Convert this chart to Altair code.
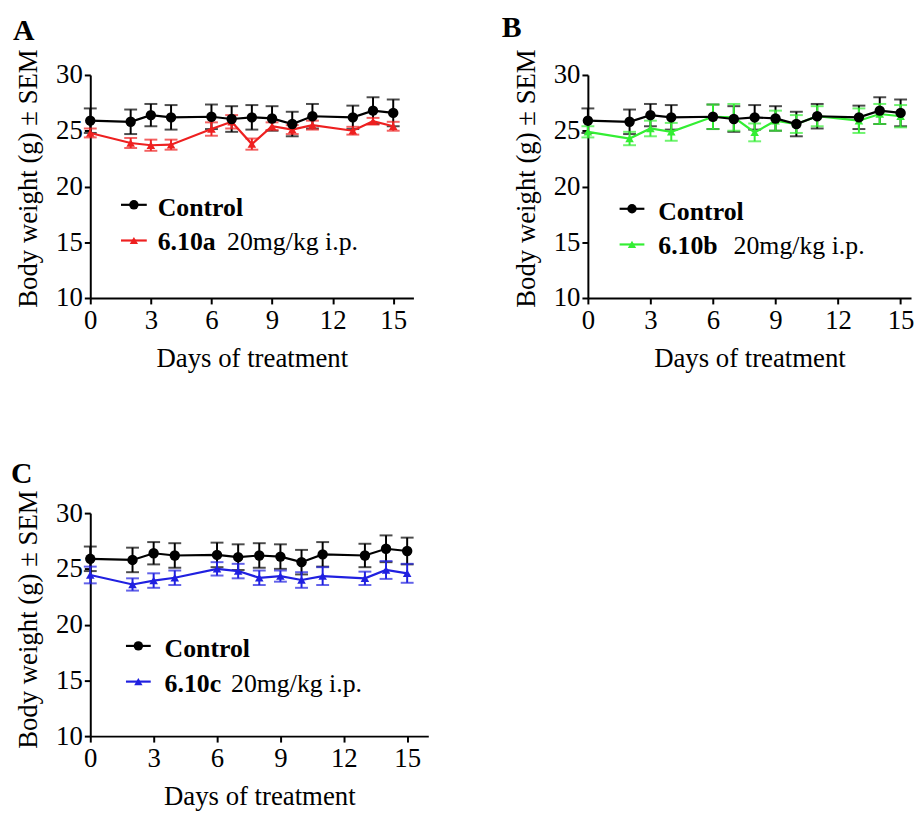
import altair as alt
import pandas as pd

# ---- data ----
days = [0, 2, 3, 4, 6, 7, 8, 9, 10, 11, 13, 14, 15]

control = [25.9, 25.8, 26.4, 26.2, 26.25, 26.05, 26.2, 26.1, 25.6, 26.3, 26.2, 26.8, 26.6]
control_sem = [1.1, 1.1, 1.0, 1.1, 1.1, 1.15, 1.1, 1.1, 1.1, 1.1, 1.05, 1.2, 1.2]

a_vals = [24.8, 23.9, 23.7, 23.75, 25.15, 25.8, 23.8, 25.4, 25.1, 25.5, 25.0, 25.85, 25.4]
a_sem = [0.4, 0.45, 0.5, 0.45, 0.6, 0.6, 0.5, 0.35, 0.4, 0.4, 0.35, 0.3, 0.4]

b_vals = [24.9, 24.3, 25.2, 24.9, 26.25, 26.2, 24.85, 25.9, 25.6, 26.3, 25.9, 26.5, 26.3]
b_sem = [0.5, 0.6, 0.7, 0.8, 1.1, 1.2, 0.8, 0.9, 0.8, 0.9, 1.1, 0.9, 1.0]

c_vals = [24.45, 23.6, 23.95, 24.2, 25.0, 24.8, 24.2, 24.35, 24.0, 24.35, 24.15, 24.9, 24.6]
c_sem = [0.75, 0.55, 0.65, 0.65, 0.6, 0.65, 0.65, 0.5, 0.7, 0.8, 0.6, 0.8, 0.85]

x_ticks = [0, 3, 6, 9, 12, 15]
y_ticks = [10, 15, 20, 25, 30]

FONT = "Liberation Serif"


def panel(letter, compound, color, vals, sems, width, xmax, title_y, leg, letter_pos):
    df = pd.DataFrame({
        "day": days,
        "ctrl": control,
        "ctrl_lo": [v - s for v, s in zip(control, control_sem)],
        "ctrl_hi": [v + s for v, s in zip(control, control_sem)],
        "trt": vals,
        "trt_lo": [v - s for v, s in zip(vals, sems)],
        "trt_hi": [v + s for v, s in zip(vals, sems)],
    })
    xaxis = alt.Axis(values=x_ticks, title="Days of treatment", labelFlush=False)
    yaxis = alt.Axis(values=y_ticks, title="Body weight (g) \u00b1 SEM", titleY=title_y)
    xs = alt.Scale(domain=[0, xmax], nice=False, zero=False)
    ys = alt.Scale(domain=[10, 30], nice=False, zero=False)
    X = alt.X("day:Q", scale=xs, axis=xaxis)

    def Y(f):
        return alt.Y(f + ":Q", scale=ys, axis=yaxis)

    base = alt.Chart(df)
    layers = []
    for key, col in (("ctrl", "black"), ("trt", color)):
        layers.append(base.mark_rule(color=col, strokeWidth=2).encode(x=X, y=Y(key + "_lo"), y2=key + "_hi:Q"))
        layers.append(base.mark_tick(color=col, orient="horizontal", size=13, thickness=2).encode(x=X, y=Y(key + "_lo")))
        layers.append(base.mark_tick(color=col, orient="horizontal", size=13, thickness=2).encode(x=X, y=Y(key + "_hi")))
    layers.append(base.mark_line(color=color, strokeWidth=2.2).encode(x=X, y=Y("trt")))
    layers.append(base.mark_point(shape="triangle-up", filled=True, opacity=1, color=color, size=75).encode(x=X, y=Y("trt")))
    layers.append(base.mark_line(color="black", strokeWidth=2.2).encode(x=X, y=Y("ctrl")))
    layers.append(base.mark_point(shape="circle", filled=True, opacity=1, color="black", size=110).encode(x=X, y=Y("ctrl")))

    # legend (drawn by hand, to allow bold + normal text in one entry)
    one = alt.Chart(pd.DataFrame({"k": [0]}))
    lx0, lx1, tx, nx, r1, r2 = leg
    for ry, col, shape, sz in ((r1, "black", "circle", 90), (r2, color, "triangle-up", 70)):
        layers.append(one.mark_rule(color=col, strokeWidth=2.2).encode(
            x=alt.value(lx0), x2=alt.value(lx1), y=alt.value(ry)))
        layers.append(one.mark_point(shape=shape, filled=True, opacity=1, color=col, size=sz).encode(
            x=alt.value((lx0 + lx1) / 2), y=alt.value(ry)))
    layers.append(one.mark_text(text="Control", font=FONT, fontSize=26, fontWeight="bold", align="left",
                                baseline="alphabetic", color="black").encode(x=alt.value(tx), y=alt.value(r1 + 11)))
    layers.append(one.mark_text(text=compound, font=FONT, fontSize=26, fontWeight="bold", align="left",
                                baseline="alphabetic", color="black").encode(x=alt.value(tx), y=alt.value(r2 + 10)))
    layers.append(one.mark_text(text="20mg/kg i.p.", font=FONT, fontSize=26, fontWeight="normal", align="left",
                                baseline="alphabetic", color="black").encode(x=alt.value(nx), y=alt.value(r2 + 10)))
    # panel letter
    layers.append(one.mark_text(text=letter, font=FONT, fontSize=30, fontWeight="bold", align="left",
                                baseline="alphabetic", color="black").encode(
        x=alt.value(letter_pos[0]), y=alt.value(letter_pos[1])))

    return alt.layer(*layers).properties(width=width, height=225)


pA = panel("A", "6.10a", "#ee2020", a_vals, a_sem, 326, 16, 104, (31, 57, 68, 138, 131, 167), (-78, -35))
pB = panel("B", "6.10b", "#33ee33", b_vals, b_sem, 326, 15.5, 104, (32, 57, 71, 147, 135, 171), (-87, -38))
pC = panel("C", "6.10c", "#2020e0", c_vals, c_sem, 341, 16, 107, (36, 61, 75, 142, 134, 170), (-80, -30))

chart = alt.concat(pA, pB, pC, columns=2, spacing={"row": 89, "column": 74}).properties(
    padding={"left": 3, "top": 2, "right": 0, "bottom": 0}
).configure_view(stroke=None).configure_axis(
    grid=False,
    domainColor="black", domainWidth=2,
    tickColor="black", tickWidth=2, tickSize=6,
    labelFont=FONT, labelFontSize=27, labelColor="black",
    titleFont=FONT, titleFontSize=27, titleFontWeight="normal", titleColor="black",
).configure_axisX(labelPadding=4, titlePadding=12).configure_axisY(labelPadding=2, titlePadding=13)

chart.save("out.html", embed_options={"renderer": "svg", "actions": False})
